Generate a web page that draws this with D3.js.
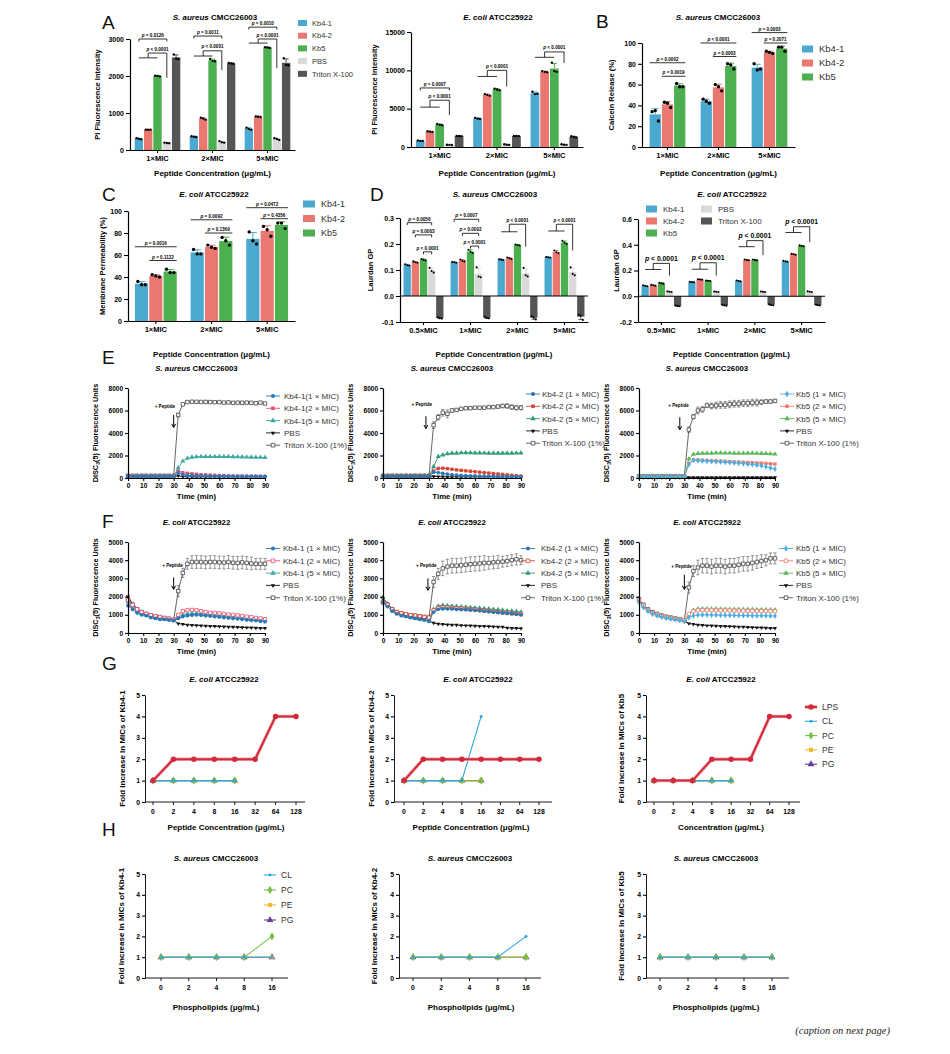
<!DOCTYPE html>
<html>
<head>
<meta charset="utf-8">
<script src="https://cdn.jsdelivr.net/npm/d3@7"></script>
<style>
body { margin: 0; background: #fff; }
</style>
</head>
<body>
<svg id="fig" width="950" height="1054"></svg>
<script>
// ---------- bar chart data (three replicates per bar) ----------
var mic3 = ['1×MIC', '2×MIC', '5×MIC'];
var mic4 = ['0.5×MIC', '1×MIC', '2×MIC', '5×MIC'];
var barNames5 = ['Kb4-1', 'Kb4-2', 'Kb5', 'PBS', 'Triton X-100'];
var barNames3 = ['Kb4-1', 'Kb4-2', 'Kb5'];
var barColors = ['#4ba8cf', '#ea7770', '#4caf50', '#d9d9d9', '#555555'];

// A: PI uptake, S. aureus
var piSa_kb41 = [[320, 300, 290], [370, 360, 350], [600, 570, 550]];
var piSa_kb42 = [[550, 550, 550], [870, 850, 820], [910, 900, 890]];
var piSa_kb5 = [[2010, 2000, 1990], [2460, 2410, 2400], [2780, 2770, 2760]];
var piSa_pbs = [[200, 190, 185], [240, 210, 200], [320, 300, 270]];
var piSa_tri = [[2580, 2470, 2460], [2350, 2340, 2330], [2480, 2300, 2290]];
// A: PI uptake, E. coli
var piEc_kb41 = [[850, 800, 780], [3800, 3700, 3650], [7200, 6900, 6950]];
var piEc_kb42 = [[2050, 2000, 1950], [6900, 6800, 6700], [9900, 9800, 9750]];
var piEc_kb5 = [[3000, 2900, 2850], [7600, 7500, 7400], [11000, 9900, 9800]];
var piEc_pbs = [[300, 280, 270], [350, 300, 280], [350, 300, 280]];
var piEc_tri = [[1450, 1430, 1420], [1450, 1430, 1420], [1400, 1300, 1250]];
// B: calcein release
var cal_kb41 = [[34, 35, 25], [46, 44, 42], [80, 74, 75]];
var cal_kb42 = [[43, 42, 38], [60, 58, 54], [92, 91, 90]];
var cal_kb5 = [[61, 58, 58], [80, 79, 75], [96, 96, 92]];
// C: membrane permeability
var perm_kb41 = [[36, 33, 33], [65, 61, 61], [81, 73, 70]];
var perm_kb42 = [[42, 41, 40], [69, 67, 66], [86, 83, 77]];
var perm_kb5 = [[47, 44, 44], [76, 73, 69], [89, 89, 84]];
// D: Laurdan GP, S. aureus
var gpSa_kb41 = [[0.122, 0.118, 0.117], [0.131, 0.130, 0.128], [0.141, 0.140, 0.138], [0.150, 0.149, 0.147]];
var gpSa_kb42 = [[0.133, 0.130, 0.128], [0.140, 0.135, 0.133], [0.148, 0.145, 0.142], [0.175, 0.168, 0.164]];
var gpSa_kb5 = [[0.142, 0.139, 0.137], [0.178, 0.170, 0.165], [0.198, 0.196, 0.194], [0.212, 0.205, 0.200]];
var gpSa_pbs = [[0.108, 0.096, 0.090], [0.110, 0.075, 0.072], [0.108, 0.080, 0.075], [0.110, 0.085, 0.080]];
var gpSa_tri = [[-0.082, -0.085, -0.087], [-0.080, -0.084, -0.086], [-0.078, -0.083, -0.090], [-0.072, -0.075, -0.092]];
// D: Laurdan GP, E. coli
var gpEc_kb41 = [[0.085, 0.080, 0.078], [0.112, 0.110, 0.108], [0.122, 0.118, 0.115], [0.275, 0.270, 0.268]];
var gpEc_kb42 = [[0.088, 0.085, 0.082], [0.132, 0.130, 0.128], [0.285, 0.282, 0.280], [0.330, 0.326, 0.322]];
var gpEc_kb5 = [[0.105, 0.100, 0.098], [0.122, 0.120, 0.118], [0.285, 0.282, 0.279], [0.395, 0.390, 0.388]];
var gpEc_pbs = [[0.038, 0.035, 0.033], [0.037, 0.035, 0.033], [0.037, 0.035, 0.033], [0.038, 0.035, 0.033]];
var gpEc_tri = [[-0.072, -0.075, -0.078], [-0.066, -0.070, -0.073], [-0.062, -0.066, -0.070], [-0.064, -0.068, -0.072]];

// significance labels: group, bars a..b (and c for the joined bracket), level(s)
var notesPiSa = [
  { g: 0, a: 0, b: 3, v: 3000, t: '= 0.0126' }, { g: 0, a: 0, b: 2, c: 3, v1: 2490, v2: 2620, v3: 1950, t: '< 0.0001' },
  { g: 1, a: 0, b: 3, v: 3080, t: '= 0.0011' }, { g: 1, a: 0, b: 2, c: 3, v1: 2540, v2: 2680, v3: 2160, t: '< 0.0001' },
  { g: 2, a: 0, b: 3, v: 3320, t: '= 0.0010' }, { g: 2, a: 0, b: 2, c: 3, v1: 2890, v2: 3000, v3: 2210, t: '< 0.0001' }
];
var notesPiEc = [
  { g: 0, a: 0, b: 3, v: 7700, t: '= 0.0007' }, { g: 0, a: 0, b: 2, c: 3, v1: 5200, v2: 6100, v3: 4170, t: '< 0.0001' },
  { g: 1, a: 0, b: 2, c: 3, v1: 9200, v2: 10000, v3: 7900, t: '< 0.0001' },
  { g: 2, a: 0, b: 2, c: 3, v1: 11700, v2: 12400, v3: 10950, t: '< 0.0001' }
];
var notesCal = [
  { g: 0, a: 0, b: 2, v: 81, t: '= 0.0002' }, { g: 0, a: 1, b: 2, v: 68, t: '= 0.0019' },
  { g: 1, a: 0, b: 2, v: 100, t: '< 0.0001' }, { g: 1, a: 1, b: 2, v: 87, t: '= 0.0003' },
  { g: 2, a: 0, b: 2, v: 110, t: '= 0.0003' }, { g: 2, a: 1, b: 2, v: 100, t: '= 0.2071' }
];
var notesPerm = [
  { g: 0, a: 0, b: 2, v: 67.5, t: '= 0.0016' }, { g: 0, a: 1, b: 2, v: 55, t: '= 0.1122' },
  { g: 1, a: 0, b: 2, v: 92, t: '= 0.0092' }, { g: 1, a: 1, b: 2, v: 80, t: '= 0.1369' },
  { g: 2, a: 0, b: 2, v: 103, t: '= 0.0472' }, { g: 2, a: 1, b: 2, v: 93, t: '= 0.4356' }
];
var notesGpSa = [
  { g: 0, a: 0, b: 3, v: 0.282, t: '= 0.0056' }, { g: 0, a: 1, b: 3, v: 0.235, t: '= 0.0003' }, { g: 0, a: 2, b: 3, v: 0.17, t: '< 0.0001' },
  { g: 1, a: 0, b: 3, v: 0.295, t: '= 0.0007' }, { g: 1, a: 1, b: 3, v: 0.241, t: '= 0.0002' }, { g: 1, a: 2, b: 3, v: 0.192, t: '< 0.0001' },
  { g: 2, a: 0, b: 2, c: 3, v1: 0.247, v2: 0.276, v3: 0.19, t: '< 0.0001' },
  { g: 3, a: 0, b: 2, c: 3, v1: 0.25, v2: 0.276, v3: 0.175, t: '< 0.0001' }
];
var notesGpEc = [
  { g: 0, a: 0, b: 2, c: 3, v1: 0.208, v2: 0.255, v3: 0.16, t: '< 0.0001' },
  { g: 1, a: 0, b: 2, c: 3, v1: 0.21, v2: 0.26, v3: 0.16, t: '< 0.0001' },
  { g: 2, a: 0, b: 2, c: 3, v1: 0.385, v2: 0.432, v3: 0.32, t: '< 0.0001' },
  { g: 3, a: 0, b: 2, c: 3, v1: 0.495, v2: 0.54, v3: 0.42, t: '< 0.0001' }
];

// ---------- DiSC3(5) time courses ----------
var timeMin = [0, 3, 6, 9, 12, 15, 18, 21, 24, 27, 30, 33, 36, 39, 42, 45, 48, 51, 54, 57, 60, 63, 66, 69, 72, 75, 78, 81, 84, 87, 90];

var eSa41_1x = [150, 150, 150, 150, 150, 150, 150, 150, 150, 150, 150, 480, 300, 250, 220, 200, 190, 180, 170, 170, 160, 160, 150, 150, 150, 150, 140, 140, 140, 140, 140];
var eSa41_2x = [160, 160, 160, 160, 160, 160, 160, 160, 160, 160, 160, 620, 480, 420, 380, 340, 300, 280, 260, 240, 220, 210, 200, 190, 180, 170, 170, 160, 160, 150, 150];
var eSa41_5x = [170, 170, 170, 170, 170, 170, 170, 170, 170, 170, 170, 900, 1500, 1750, 1850, 1880, 1900, 1900, 1900, 1900, 1900, 1900, 1900, 1890, 1880, 1870, 1860, 1850, 1840, 1830, 1820];
var eSa41_pbs = [100, 100, 100, 100, 100, 100, 100, 100, 100, 100, 100, 200, 120, 110, 100, 100, 100, 100, 100, 100, 100, 100, 100, 100, 100, 100, 100, 100, 100, 100, 100];
var eSa41_tri = [200, 200, 200, 200, 200, 200, 200, 200, 200, 200, 200, 5600, 6550, 6750, 6780, 6770, 6760, 6760, 6750, 6740, 6750, 6700, 6720, 6680, 6700, 6690, 6700, 6680, 6650, 6700, 6620];
var eSa41_err = [0, 0, 0, 0, 0, 0, 0, 0, 0, 0, 0, 150, 100, 80, 80, 80, 80, 80, 80, 80, 80, 80, 80, 80, 80, 80, 80, 80, 80, 80, 80];

var eSa42_1x = [150, 150, 150, 150, 150, 150, 150, 150, 150, 150, 150, 520, 480, 420, 350, 300, 260, 230, 210, 190, 180, 170, 160, 150, 150, 140, 140, 130, 130, 130, 120];
var eSa42_2x = [170, 170, 170, 170, 170, 170, 170, 170, 170, 170, 170, 620, 850, 880, 830, 780, 720, 680, 640, 600, 560, 520, 480, 440, 400, 360, 320, 280, 240, 200, 170];
var eSa42_5x = [180, 180, 180, 180, 180, 180, 180, 180, 180, 180, 180, 1000, 1900, 2050, 2150, 2200, 2200, 2230, 2250, 2230, 2220, 2220, 2210, 2200, 2200, 2200, 2200, 2200, 2200, 2210, 2220];
var eSa42_pbs = [100, 100, 100, 100, 100, 100, 100, 100, 100, 100, 100, 150, 130, 110, 100, 100, 100, 100, 100, 100, 100, 100, 100, 100, 100, 100, 100, 100, 100, 100, 100];
var eSa42_tri = [200, 200, 200, 200, 200, 200, 200, 200, 200, 200, 200, 4700, 5400, 5800, 5700, 6000, 6050, 6150, 6200, 6200, 6250, 6250, 6250, 6300, 6300, 6350, 6400, 6400, 6300, 6250, 6250];
var eSa42_err = [0, 0, 0, 0, 0, 0, 0, 0, 0, 0, 0, 300, 250, 300, 350, 150, 100, 100, 100, 100, 100, 100, 100, 100, 100, 150, 150, 200, 200, 200, 200];

var eSa5_1x = [120, 120, 120, 120, 120, 120, 120, 120, 120, 120, 120, 1200, 1580, 1550, 1520, 1500, 1480, 1460, 1440, 1410, 1380, 1350, 1320, 1280, 1240, 1200, 1150, 1100, 1000, 900, 800];
var eSa5_2x = [130, 130, 130, 130, 130, 130, 130, 130, 130, 130, 130, 1300, 1620, 1600, 1580, 1560, 1540, 1520, 1500, 1480, 1460, 1440, 1420, 1400, 1380, 1360, 1340, 1320, 1300, 1270, 1240];
var eSa5_5x = [140, 140, 140, 140, 140, 140, 140, 140, 140, 140, 140, 1700, 2100, 2180, 2200, 2200, 2200, 2220, 2220, 2210, 2210, 2200, 2200, 2200, 2200, 2200, 2190, 2180, 2170, 2150, 2130];
var eSa5_pbs = [50, 50, 50, 50, 50, 50, 50, 50, 50, 50, 50, 50, 50, 50, 50, 50, 50, 50, 50, 50, 50, 50, 50, 50, 50, 50, 50, 50, 50, 50, 50];
var eSa5_tri = [150, 150, 150, 150, 150, 150, 150, 150, 150, 150, 150, 4300, 5450, 6000, 6100, 6450, 6400, 6450, 6500, 6500, 6550, 6600, 6600, 6650, 6650, 6700, 6700, 6750, 6800, 6800, 6850];
var eSa5_err = [0, 0, 0, 0, 0, 0, 0, 0, 0, 0, 0, 250, 200, 300, 250, 200, 250, 300, 300, 300, 300, 300, 300, 300, 300, 300, 300, 200, 150, 150, 150];

var fEc41_1x = [1500, 1300, 1100, 1000, 950, 850, 800, 750, 750, 720, 680, 800, 900, 950, 980, 1000, 980, 950, 930, 900, 880, 850, 830, 800, 780, 750, 720, 700, 680, 650, 620];
var fEc41_2x = [1800, 1550, 1300, 1150, 1050, 980, 920, 880, 830, 780, 720, 1000, 1200, 1260, 1270, 1250, 1200, 1150, 1120, 1100, 1080, 1050, 1020, 1000, 970, 940, 900, 870, 830, 800, 760];
var fEc41_5x = [1700, 1450, 1200, 1050, 980, 880, 820, 760, 740, 720, 680, 850, 1000, 1050, 1070, 1080, 1060, 1040, 1020, 1000, 970, 950, 920, 900, 870, 840, 800, 780, 750, 720, 700];
var fEc41_pbs = [2000, 1600, 1350, 1150, 1050, 950, 900, 850, 800, 760, 700, 520, 480, 450, 430, 420, 400, 390, 380, 370, 360, 350, 340, 330, 320, 310, 300, 290, 280, 270, 260];
var fEc41_tri = [1850, 1550, 1300, 1150, 1050, 980, 920, 870, 820, 780, 720, 2300, 3300, 3800, 3900, 3900, 3900, 3880, 3900, 3900, 3880, 3870, 3900, 3860, 3850, 3880, 3850, 3820, 3800, 3800, 3800];
var fEc41_err = [80, 60, 50, 50, 50, 50, 50, 50, 50, 50, 50, 300, 250, 300, 350, 350, 350, 350, 350, 350, 350, 350, 350, 350, 350, 350, 350, 350, 300, 300, 300];

var fEc42_1x = [1650, 1450, 1200, 1050, 950, 900, 850, 800, 750, 720, 650, 1150, 1300, 1330, 1330, 1320, 1300, 1290, 1280, 1270, 1250, 1230, 1200, 1180, 1150, 1130, 1100, 1080, 1060, 1040, 1000];
var fEc42_2x = [1700, 1550, 1300, 1150, 1080, 1030, 980, 950, 920, 880, 850, 1250, 1380, 1400, 1400, 1380, 1360, 1340, 1320, 1300, 1280, 1250, 1230, 1200, 1180, 1150, 1120, 1100, 1080, 1060, 1040];
var fEc42_5x = [1950, 1600, 1300, 1100, 1000, 920, 850, 800, 760, 720, 650, 1300, 1480, 1520, 1500, 1480, 1460, 1440, 1420, 1400, 1380, 1360, 1340, 1320, 1300, 1280, 1250, 1220, 1200, 1180, 1150];
var fEc42_pbs = [1900, 1600, 1350, 1150, 1050, 950, 900, 850, 800, 750, 650, 550, 500, 480, 460, 450, 440, 420, 410, 400, 390, 380, 370, 360, 350, 340, 330, 280, 270, 260, 250];
var fEc42_tri = [1700, 1550, 1300, 1150, 1080, 1030, 980, 950, 920, 880, 850, 2800, 3250, 3550, 3650, 3700, 3700, 3720, 3750, 3780, 3800, 3820, 3850, 3850, 3880, 3900, 3920, 3950, 4000, 4050, 4000];
var fEc42_err = [80, 60, 50, 50, 50, 50, 50, 50, 50, 50, 50, 300, 300, 400, 400, 400, 400, 400, 400, 400, 400, 400, 400, 350, 350, 350, 300, 300, 300, 300, 250];

var fEc5_1x = [1700, 1400, 1200, 1050, 950, 880, 820, 780, 740, 700, 650, 850, 950, 990, 1000, 1000, 990, 990, 980, 980, 970, 970, 960, 960, 960, 950, 950, 950, 950, 940, 940];
var fEc5_2x = [1800, 1500, 1250, 1100, 1000, 930, 870, 820, 780, 740, 700, 1050, 1200, 1250, 1260, 1260, 1250, 1250, 1240, 1240, 1240, 1230, 1230, 1230, 1220, 1220, 1220, 1210, 1210, 1200, 1200];
var fEc5_5x = [1750, 1450, 1220, 1080, 990, 920, 860, 810, 770, 730, 680, 1000, 1250, 1320, 1330, 1330, 1320, 1320, 1310, 1310, 1300, 1300, 1300, 1290, 1290, 1290, 1280, 1280, 1280, 1270, 1270];
var fEc5_pbs = [1800, 1500, 1250, 1100, 1000, 920, 860, 800, 750, 700, 650, 520, 480, 450, 430, 410, 400, 390, 380, 370, 360, 350, 340, 330, 320, 310, 300, 290, 280, 270, 260];
var fEc5_tri = [1850, 1550, 1300, 1150, 1050, 960, 900, 850, 800, 760, 700, 2500, 3400, 3600, 3700, 3700, 3650, 3700, 3700, 3650, 3700, 3700, 3750, 3800, 3800, 3850, 3900, 3950, 4000, 4100, 4100];
var fEc5_err = [80, 60, 50, 50, 50, 50, 50, 50, 50, 50, 50, 300, 300, 400, 400, 400, 400, 400, 400, 400, 400, 400, 400, 400, 400, 400, 350, 350, 300, 300, 300];

var labE41 = ['Kb4-1(1 × MIC)', 'Kb4-1(2 × MIC)', 'Kb4-1(5 × MIC)', 'PBS', 'Triton X-100 (1%)'];
var labF41 = ['Kb4-1 (1 × MIC)', 'Kb4-1 (2 × MIC)', 'Kb4-1 (5 × MIC)', 'PBS', 'Triton X-100 (1%)'];
var lab42 = ['Kb4-2 (1 × MIC)', 'Kb4-2 (2 × MIC)', 'Kb4-2 (5 × MIC)', 'PBS', 'Triton X-100 (1%)'];
var lab5 = ['Kb5 (1 × MIC)', 'Kb5 (2 × MIC)', 'Kb5 (5 × MIC)', 'PBS', 'Triton X-100 (1%)'];

// ---------- MIC fold increase ----------
var concG = ['0', '2', '4', '8', '16', '32', '64', '128'];
var concH = ['0', '2', '4', '8', '16'];
var lipidNames = ['LPS', 'CL', 'PC', 'PE', 'PG'];
var gKb41 = { LPS: [1, 2, 2, 2, 2, 2, 4, 4], CL: [1, 1, 1, 1, 1], PC: [1, 1, 1, 1, 1], PE: [1, 1, 1, 1, 1], PG: [1, 1, 1, 1, 1] };
var gKb42 = { LPS: [1, 2, 2, 2, 2, 2, 2, 2], CL: [1, 1, 1, 1, 4], PC: [1, 1, 1, 1, 1], PE: [1, 1, 1, 1, 1], PG: [1, 1, 1, 1, 1] };
var gKb5 = { LPS: [1, 1, 1, 2, 2, 2, 4, 4], CL: [1, 1, 1, 1, 1], PC: [1, 1, 1, 1, 1], PE: [1, 1, 1, 1, 1], PG: [1, 1, 1, 1, 1] };
var hKb41 = { CL: [1, 1, 1, 1, 1], PC: [1, 1, 1, 1, 2], PE: [1, 1, 1, 1, 1], PG: [1, 1, 1, 1, 1] };
var hKb42 = { CL: [1, 1, 1, 1, 2], PC: [1, 1, 1, 1, 1], PE: [1, 1, 1, 1, 1], PG: [1, 1, 1, 1, 1] };
var hKb5 = { CL: [1, 1, 1, 1, 1], PC: [1, 1, 1, 1, 1], PE: [1, 1, 1, 1, 1], PG: [1, 1, 1, 1, 1] };

// ---------------------------------------------------------------
var FONT = '"Liberation Sans", Arial, Helvetica, sans-serif';
var NARROW = '"Liberation Sans Narrow", "Arial Narrow", "Liberation Sans", sans-serif';
var svg = d3.select('#fig');
svg.append('rect').attr('width', 950).attr('height', 1054).attr('fill', '#fff');

function styleAxis(sel, fs, fam) {
  sel.attr('font-family', fam || FONT);
  sel.select('.domain').attr('stroke', '#000').attr('stroke-width', 1.2);
  sel.selectAll('.tick line').attr('stroke', '#000').attr('stroke-width', 1.1);
  sel.selectAll('.tick text').attr('font-size', fs).attr('font-weight', 'bold')
    .attr('fill', '#000').attr('font-family', fam || FONT);
}

function title(g, x, y, it, rest, fs, fam) {
  var t = g.append('text').attr('x', x).attr('y', y).attr('text-anchor', 'middle')
    .attr('font-size', fs || 8).attr('font-weight', 'bold').attr('font-family', fam || FONT);
  t.append('tspan').attr('font-style', 'italic').text(it);
  t.append('tspan').text(rest);
}

function plainText(g, x, y, txt, fs, opt) {
  opt = opt || {};
  var t = g.append('text').attr('x', x).attr('y', y).attr('font-size', fs)
    .attr('font-family', opt.fam || FONT).attr('text-anchor', opt.anchor || 'middle')
    .attr('fill', opt.fill || '#000').text(txt);
  if (opt.bold !== false) t.attr('font-weight', 'bold');
  if (opt.rot) t.attr('transform', 'rotate(-90,' + x + ',' + y + ')');
  return t;
}

function pText(g, x, y, t, fs) {
  var tx = g.append('text').attr('x', x).attr('y', y).attr('text-anchor', 'middle')
    .attr('font-size', fs).attr('font-weight', 'bold').attr('font-family', FONT);
  tx.append('tspan').attr('font-style', 'italic').text('p');
  tx.append('tspan').text(' ' + t);
}

function barChart(o) {
  var g = svg.append('g');
  var x = d3.scaleBand().domain(o.cats).range([o.x0, o.x1]).paddingInner(o.gPad).paddingOuter(o.gPad / 2);
  var xi = d3.scaleBand().domain(d3.range(o.series.length)).range([0, x.bandwidth()]).paddingInner(o.bPad);
  var y = d3.scaleLinear().domain(o.domain).range([o.yBot, o.yTop]);
  var bw = xi.bandwidth();
  function cx(ci, si) { return x(o.cats[ci]) + xi(si) + bw / 2; }

  o.series.forEach(function (reps, si) {
    reps.forEach(function (r, ci) {
      var m = d3.mean(r), sd = d3.deviation(r) || 0, c = cx(ci, si);
      g.append('rect').attr('x', c - bw / 2).attr('width', bw)
        .attr('y', Math.min(y(m), y(0))).attr('height', Math.abs(y(m) - y(0)))
        .attr('fill', o.colors[si]);
      var e = y(m >= 0 ? m + sd : m - sd);
      g.append('line').attr('x1', c).attr('x2', c).attr('y1', y(m)).attr('y2', e)
        .attr('stroke', o.colors[si]).attr('stroke-width', 1);
      g.append('line').attr('x1', c - bw * 0.3).attr('x2', c + bw * 0.3).attr('y1', e).attr('y2', e)
        .attr('stroke', o.colors[si]).attr('stroke-width', 1);
      r.forEach(function (v, k) {
        g.append('circle').attr('cx', c + (k - 1) * bw * 0.28).attr('cy', y(v))
          .attr('r', o.dotR || 1.2).attr('fill', '#000');
      });
    });
  });

  var ya = g.append('g').attr('transform', 'translate(' + o.x0 + ',0)')
    .call(d3.axisLeft(y).tickValues(o.ticks).tickFormat(o.fmt || d3.format('d'))
      .tickSize(4).tickSizeOuter(0).tickPadding(2));
  styleAxis(ya, o.tfs || 7);
  var xa = g.append('g').attr('transform', 'translate(0,' + o.yBot + ')')
    .call(d3.axisBottom(x).tickSize(3).tickSizeOuter(0).tickPadding(3));
  styleAxis(xa, o.cfs || 7.5);
  if (o.domain[0] < 0) {
    g.append('line').attr('x1', o.x0).attr('x2', o.x1).attr('y1', y(0)).attr('y2', y(0))
      .attr('stroke', '#000').attr('stroke-width', 1.2);
  }

  (o.notes || []).forEach(function (n) {
    var L = g.append('path').attr('fill', 'none').attr('stroke', '#000').attr('stroke-width', 0.8);
    var ext = o.noteExt ? bw / 2 : 0, tk = o.noteTicks ? 2.5 : 0;
    var xa0 = cx(n.g, n.a) - ext, xb = cx(n.g, n.b) + ext, tx, ty;
    if (n.c === undefined) {
      var yy = y(n.v);
      L.attr('d', 'M' + xa0 + ',' + (yy + tk) + 'V' + yy + 'H' + xb + 'V' + (yy + tk));
      tx = (xa0 + xb) / 2; ty = yy - 2;
    } else {
      var xc = cx(n.g, n.c), mid = (xa0 + xb) / 2;
      L.attr('d', 'M' + xa0 + ',' + y(n.v1) + 'H' + xb + 'M' + mid + ',' + y(n.v1) +
        'V' + y(n.v2) + 'H' + xc + 'V' + y(n.v3));
      tx = (mid + xc) / 2; ty = y(n.v2) - 2.5;
    }
    pText(g, tx, ty, n.t, o.nfs || 5);
  });

  title(g, o.tx, o.ty, o.title[0], o.title[1], 8);
  plainText(g, (o.x0 + o.x1) / 2, o.xly, 'Peptide Concentration (μg/mL)', 8);
  plainText(g, o.ylx, (o.yTop + o.yBot) / 2, o.yLabel, 7.5, { rot: true });

  if (o.legend) {
    var lg = o.legend;
    o.names.forEach(function (nm, i) {
      var col = Math.floor(i / lg.per), row = i % lg.per;
      var lx = lg.x + col * (lg.colW || 0), ly = lg.y + row * lg.dy;
      g.append('rect').attr('x', lx).attr('y', ly - lg.sh / 2).attr('width', lg.sw).attr('height', lg.sh)
        .attr('fill', o.colors[i]);
      plainText(g, lx + lg.sw + lg.gap, ly + lg.fs * 0.36, nm, lg.fs, { anchor: 'start', bold: false, fill: '#333' });
    });
  }
}

var shapes = {
  circle: d3.symbolCircle, square: d3.symbolSquare, triangle: d3.symbolTriangle,
  diamond: d3.symbolDiamond, down: d3.symbolTriangle, cross: d3.symbolCross
};

function marker(g, s, px, py, size) {
  var p = g.append('path').attr('d', d3.symbol().type(shapes[s.shape]).size(size || s.size || 11)())
    .attr('transform', 'translate(' + px + ',' + py + ')' + (s.shape === 'down' ? ' rotate(180)' : ''));
  if (s.open) p.attr('fill', '#fff').attr('stroke', s.color).attr('stroke-width', 0.8);
  else p.attr('fill', s.color);
}

function timeChart(o) {
  var g = svg.append('g');
  var x = d3.scaleLinear().domain([0, 90]).range([o.x0, o.x1]);
  var y = d3.scaleLinear().domain([0, o.ymax]).range([o.yBot, o.yTop]);

  o.series.slice().reverse().forEach(function (s) {
    if (s.err) {
      s.err.forEach(function (e, i) {
        if (!e) return;
        var px = x(timeMin[i]), a = y(s.v[i] + e), b = y(s.v[i] - e);
        g.append('path').attr('d', 'M' + px + ',' + a + 'V' + b + 'M' + (px - 1.6) + ',' + a + 'H' + (px + 1.6) +
          'M' + (px - 1.6) + ',' + b + 'H' + (px + 1.6))
          .attr('stroke', s.line || s.color).attr('stroke-width', 0.6).attr('fill', 'none');
      });
    }
    var pts = timeMin.map(function (t, i) { return [x(t), y(s.v[i])]; });
    g.append('path').attr('d', d3.line()(pts)).attr('fill', 'none')
      .attr('stroke', s.line || s.color).attr('stroke-width', 0.9);
    pts.forEach(function (p) { marker(g, s, p[0], p[1]); });
  });

  var ya = g.append('g').attr('transform', 'translate(' + o.x0 + ',0)')
    .call(d3.axisLeft(y).tickValues(d3.range(0, o.ymax + 1, o.ystep))
      .tickFormat(d3.format('d')).tickSize(3).tickSizeOuter(0).tickPadding(2));
  styleAxis(ya, 6.5);
  var xa = g.append('g').attr('transform', 'translate(0,' + o.yBot + ')')
    .call(d3.axisBottom(x).tickValues(d3.range(0, 91, 10)).tickFormat(d3.format('d'))
      .tickSize(3).tickSizeOuter(0).tickPadding(2));
  styleAxis(xa, 6.5);

  // peptide addition marker
  plainText(g, x(o.pep.t), y(o.pep.v), '+ Peptide', 4.6, { anchor: 'end' });
  var ax = x(o.pep.at), a1 = y(o.pep.a1), a2 = y(o.pep.a2);
  g.append('path').attr('d', 'M' + ax + ',' + a1 + 'V' + a2 + 'M' + (ax - 2) + ',' + (a2 - 3.5) + 'L' + ax + ',' + a2 +
    'L' + (ax + 2) + ',' + (a2 - 3.5)).attr('stroke', '#000').attr('stroke-width', 1).attr('fill', 'none');

  title(g, (o.x0 + o.x1) / 2, o.yTop - 17, o.title[0], o.title[1], 7.8);
  plainText(g, (o.x0 + o.x1) / 2, o.yBot + 21, 'Time (min)', 7.8);
  var yl = g.append('text')
    .attr('transform', 'translate(' + (o.x0 - 30) + ',' + ((o.yTop + o.yBot) / 2) + ') rotate(-90)')
    .attr('text-anchor', 'middle').attr('font-size', 7.3).attr('font-weight', 'bold').attr('font-family', FONT);
  yl.append('tspan').text('DISC');
  yl.append('tspan').attr('font-size', 5.2).attr('dy', 2).text('3');
  yl.append('tspan').attr('dy', -2).text('(5) Fluorescence Units');

  o.series.forEach(function (s, i) {
    var ly = o.lg.y + i * 12.3;
    g.append('line').attr('x1', o.lg.mx - 7).attr('x2', o.lg.mx + 7).attr('y1', ly).attr('y2', ly)
      .attr('stroke', s.line || s.color).attr('stroke-width', 0.9);
    marker(g, s, o.lg.mx, ly, i === 3 ? 8 : 13);
    plainText(g, o.lg.tx, ly + 2.9, s.label, 8, { anchor: 'start', bold: false, fill: '#333' });
  });
}

function tSeries(vals, colors, shapes_, opens, labels, err) {
  return vals.map(function (v, i) {
    var s = { v: v, color: colors[i], shape: shapes_[i], open: opens[i], label: labels[i] };
    if (i === 3) s.size = 7;
    if (i === 4) { s.line = '#555'; s.color = '#444'; s.err = err; s.size = 12; }
    return s;
  });
}

var lipidStyle = {
  LPS: { color: '#d22a3b', shape: 'circle', size: 24, lw: 2 },
  CL: { color: '#2aa7df', shape: 'circle', size: 7, lw: 1.1 },
  PC: { color: '#77bd45', shape: 'diamond', size: 20, lw: 1.1 },
  PE: { color: '#f2b630', shape: 'square', size: 16, lw: 1.1 },
  PG: { color: '#6a3d9a', shape: 'triangle', size: 20, lw: 1.1 }
};

function micChart(o) {
  var g = svg.append('g');
  var x = d3.scalePoint().domain(o.cats).range([o.c0, o.c1]);
  var y = d3.scaleLinear().domain([0, 5]).range([o.yBot, o.yTop]);
  var order = ['PG', 'PE', 'PC', 'CL', 'LPS'];
  order.forEach(function (k) {
    if (!o.data[k]) return;
    var st = lipidStyle[k];
    var pts = o.data[k].map(function (v, i) { return [x(o.cats[i]), y(v)]; });
    if (k === 'LPS') {
      g.append('path').attr('d', d3.line()(pts)).attr('fill', 'none').attr('stroke', '#f3a3ab').attr('stroke-width', 3.4);
    }
    g.append('path').attr('d', d3.line()(pts)).attr('fill', 'none').attr('stroke', st.color).attr('stroke-width', st.lw);
    pts.forEach(function (p) { marker(g, st, p[0], p[1]); });
  });

  var ya = g.append('g').attr('transform', 'translate(' + o.x0 + ',0)')
    .call(d3.axisLeft(y).tickValues([0, 1, 2, 3, 4, 5]).tickFormat(d3.format('d'))
      .tickSize(3).tickSizeOuter(0).tickPadding(2));
  styleAxis(ya, 6.8, NARROW);
  ya.select('.domain').attr('stroke-width', 0.9);
  g.append('line').attr('x1', o.x0).attr('x2', o.x1).attr('y1', o.yBot).attr('y2', o.yBot)
    .attr('stroke', '#000').attr('stroke-width', 0.9);
  o.cats.forEach(function (c) {
    g.append('line').attr('x1', x(c)).attr('x2', x(c)).attr('y1', o.yBot).attr('y2', o.yBot + 3)
      .attr('stroke', '#000').attr('stroke-width', 0.9);
    plainText(g, x(c), o.yBot + 12, c, 6.8, { fam: NARROW });
  });

  title(g, o.tx, o.yTop - 13, o.title[0], o.title[1], 8, NARROW);
  plainText(g, o.xlx, o.xly, o.xLabel, 8, { fam: NARROW });
  plainText(g, o.ylx, (o.yTop + o.yBot) / 2, o.yLabel, 8, { rot: true, fam: NARROW });

  if (o.lg) {
    o.lg.names.forEach(function (k, i) {
      var st = lipidStyle[k], ly = o.lg.y + i * o.lg.dy;
      if (k === 'LPS') g.append('line').attr('x1', o.lg.mx - 6).attr('x2', o.lg.mx + 6).attr('y1', ly).attr('y2', ly)
        .attr('stroke', '#f3a3ab').attr('stroke-width', 3.4);
      g.append('line').attr('x1', o.lg.mx - 6).attr('x2', o.lg.mx + 6).attr('y1', ly).attr('y2', ly)
        .attr('stroke', st.color).attr('stroke-width', st.lw);
      marker(g, st, o.lg.mx, ly);
      plainText(g, o.lg.tx, ly + 3, k, 8.5, { anchor: 'start', bold: false, fam: NARROW, fill: '#333' });
    });
  }
}

// ---------- panels ----------
barChart({
  x0: 130, x1: 295, yTop: 39, yBot: 150, domain: [0, 3000], ticks: [0, 1000, 2000, 3000],
  cats: mic3, series: [piSa_kb41, piSa_kb42, piSa_kb5, piSa_pbs, piSa_tri], colors: barColors, names: barNames5,
  gPad: 0.17, bPad: 0.1, title: ['S. aureus', ' CMCC26003'], tx: 215, ty: 20, xly: 176, ylx: 100,
  yLabel: 'PI Fluorescence Intensity', notes: notesPiSa, noteTicks: true, nfs: 4.6,
  legend: { x: 298, y: 23, dy: 12.7, per: 5, sw: 9, sh: 6, gap: 5, fs: 7.5 }
});
barChart({
  x0: 411, x1: 583, yTop: 32, yBot: 147, domain: [0, 15000], ticks: [0, 5000, 10000, 15000],
  cats: mic3, series: [piEc_kb41, piEc_kb42, piEc_kb5, piEc_pbs, piEc_tri], colors: barColors, names: barNames5,
  gPad: 0.17, bPad: 0.1, title: ['E. coli', ' ATCC25922'], tx: 498, ty: 20, xly: 176, ylx: 377,
  yLabel: 'PI Fluorescence Intensity', notes: notesPiEc, noteTicks: true, nfs: 4.6
});
barChart({
  x0: 642, x1: 795, yTop: 43, yBot: 147, domain: [0, 100], ticks: [0, 20, 40, 60, 80, 100],
  cats: mic3, series: [cal_kb41, cal_kb42, cal_kb5], colors: barColors, names: barNames3,
  gPad: 0.3, bPad: 0.08, dotR: 1.7, title: ['S. aureus', ' CMCC26003'], tx: 718, ty: 20, xly: 176, ylx: 614,
  yLabel: 'Calcein Release (%)', notes: notesCal, noteExt: true, nfs: 4.6,
  legend: { x: 802, y: 49, dy: 14, per: 3, sw: 11, sh: 7, gap: 6, fs: 9.5 }
});
barChart({
  x0: 128, x1: 295, yTop: 211, yBot: 321, domain: [0, 100], ticks: [0, 20, 40, 60, 80, 100],
  cats: mic3, series: [perm_kb41, perm_kb42, perm_kb5], colors: barColors, names: barNames3,
  gPad: 0.25, bPad: 0.08, dotR: 1.7, title: ['E. coli', ' ATCC25922'], tx: 214, ty: 197, xly: 357, ylx: 105,
  yLabel: 'Membrane Permeability (%)', notes: notesPerm, noteExt: true, nfs: 4.6,
  legend: { x: 303, y: 204, dy: 14.5, per: 3, sw: 12, sh: 7, gap: 6, fs: 9 }
});
barChart({
  x0: 400, x1: 588, yTop: 218, yBot: 322, domain: [-0.1, 0.3], ticks: [-0.1, 0, 0.1, 0.2, 0.3],
  fmt: function (d) { return d.toFixed(1); },
  cats: mic4, series: [gpSa_kb41, gpSa_kb42, gpSa_kb5, gpSa_pbs, gpSa_tri], colors: barColors, names: barNames5,
  gPad: 0.15, bPad: 0.1, dotR: 1.05, title: ['S. aureus', ' CMCC26003'], tx: 495, ty: 197, xly: 357, ylx: 373,
  yLabel: 'Laurdan GP', notes: notesGpSa, noteTicks: true, nfs: 4.6
});
barChart({
  x0: 638, x1: 825, yTop: 219, yBot: 322, domain: [-0.2, 0.6], ticks: [-0.2, 0, 0.2, 0.4, 0.6],
  fmt: function (d) { return d.toFixed(1); },
  cats: mic4, series: [gpEc_kb41, gpEc_kb42, gpEc_kb5, gpEc_pbs, gpEc_tri], colors: barColors, names: barNames5,
  gPad: 0.15, bPad: 0.1, dotR: 1.05, title: ['E. coli', ' ATCC25922'], tx: 732, ty: 197, xly: 357, ylx: 619,
  yLabel: 'Laurdan GP', notes: notesGpEc, nfs: 6.8,
  legend: { x: 646, y: 209, dy: 12, per: 3, colW: 55, sw: 11, sh: 7, gap: 6, fs: 8 }
});

var shp = ['circle', 'square', 'triangle', 'down', 'square'];
var shp5 = ['diamond', 'square', 'triangle', 'down', 'square'];
var cols41 = ['#2b77b8', '#e6506e', '#3aa99f', '#111', '#444'];
var cols42 = ['#2a77b5', '#d94535', '#2e9c7a', '#111', '#444'];
var cols5 = ['#49aee0', '#ee7b6e', '#58b85a', '#111', '#444'];

timeChart({
  x0: 128, x1: 265, yTop: 388, yBot: 478, ymax: 8000, ystep: 2000, title: ['S. aureus', ' CMCC26003'],
  series: tSeries([eSa41_1x, eSa41_2x, eSa41_5x, eSa41_pbs, eSa41_tri], cols41, shp, [0, 0, 0, 0, 1], labE41, eSa41_err),
  pep: { t: 31, v: 6250, at: 30, a1: 5600, a2: 4500 }, lg: { mx: 273, tx: 284, y: 396 }
});
timeChart({
  x0: 383, x1: 521, yTop: 388, yBot: 478, ymax: 8000, ystep: 2000, title: ['S. aureus', ' CMCC26003'],
  series: tSeries([eSa42_1x, eSa42_2x, eSa42_5x, eSa42_pbs, eSa42_tri], cols42, shp, [0, 0, 0, 0, 1], lab42, eSa42_err),
  pep: { t: 32, v: 6400, at: 28, a1: 5500, a2: 4400 }, lg: { mx: 533, tx: 542, y: 394 }
});
timeChart({
  x0: 639, x1: 775, yTop: 388, yBot: 478, ymax: 8000, ystep: 2000, title: ['S. aureus', ' CMCC26003'],
  series: tSeries([eSa5_1x, eSa5_2x, eSa5_5x, eSa5_pbs, eSa5_tri], cols5, shp5, [0, 0, 0, 0, 1], lab5, eSa5_err),
  pep: { t: 33, v: 6300, at: 27, a1: 5400, a2: 4300 }, lg: { mx: 787, tx: 796, y: 394 }
});
timeChart({
  x0: 128, x1: 265, yTop: 542, yBot: 633, ymax: 5000, ystep: 1000, title: ['E. coli', ' ATCC25922'],
  series: tSeries([fEc41_1x, fEc41_2x, fEc41_5x, fEc41_pbs, fEc41_tri], cols41, shp, [0, 1, 0, 0, 1], labF41, fEc41_err),
  pep: { t: 36, v: 3600, at: 30, a1: 3050, a2: 2400 }, lg: { mx: 273, tx: 283, y: 548.5 }
});
timeChart({
  x0: 383, x1: 521, yTop: 542, yBot: 633, ymax: 5000, ystep: 1000, title: ['E. coli', ' ATCC25922'],
  series: tSeries([fEc42_1x, fEc42_2x, fEc42_5x, fEc42_pbs, fEc42_tri], cols42, shp, [0, 1, 0, 0, 1], lab42, fEc42_err),
  pep: { t: 35, v: 3600, at: 29.3, a1: 3000, a2: 2350 }, lg: { mx: 528, tx: 541, y: 548.5 }
});
timeChart({
  x0: 639, x1: 775, yTop: 542, yBot: 633, ymax: 5000, ystep: 1000, title: ['E. coli', ' ATCC25922'],
  series: tSeries([fEc5_1x, fEc5_2x, fEc5_5x, fEc5_pbs, fEc5_tri], cols5, shp5, [0, 1, 0, 0, 1], lab5, fEc5_err),
  pep: { t: 35, v: 3550, at: 30, a1: 3200, a2: 2400 }, lg: { mx: 786, tx: 796, y: 548.5 }
});

micChart({
  x0: 145, x1: 305, c0: 153, c1: 296, yTop: 695, yBot: 802, cats: concG, data: gKb41,
  title: ['E. coli', ' ATCC25922'], tx: 224, xlx: 226, xly: 830, xLabel: 'Peptide Concentration (μg/mL)',
  ylx: 125, yLabel: 'Fold Increase In MICs of Kb4-1'
});
micChart({
  x0: 394, x1: 552, c0: 404, c1: 539, yTop: 695, yBot: 802, cats: concG, data: gKb42,
  title: ['E. coli', ' ATCC25922'], tx: 478, xlx: 471, xly: 830, xLabel: 'Peptide Concentration (μg/mL)',
  ylx: 374, yLabel: 'Fold Increase In MICs of Kb4-2'
});
micChart({
  x0: 646, x1: 800, c0: 654, c1: 789, yTop: 695, yBot: 802, cats: concG, data: gKb5,
  title: ['E. coli', ' ATCC25922'], tx: 721, xlx: 721, xly: 830, xLabel: 'Concentration (μg/mL)',
  ylx: 624, yLabel: 'Fold Increase In MICs of Kb5',
  lg: { names: lipidNames, mx: 811, tx: 822, y: 707, dy: 14.3 }
});
micChart({
  x0: 145, x1: 288, c0: 161, c1: 272, yTop: 874, yBot: 978, cats: concH, data: hKb41,
  title: ['S. aureus', ' CMCC26003'], tx: 216, xlx: 216, xly: 1010, xLabel: 'Phospholipids (μg/mL)',
  ylx: 124, yLabel: 'Fold Increase In MICs of Kb4-1',
  lg: { names: ['CL', 'PC', 'PE', 'PG'], mx: 270, tx: 281, y: 875, dy: 15 }
});
micChart({
  x0: 399, x1: 541, c0: 413, c1: 526, yTop: 874, yBot: 978, cats: concH, data: hKb42,
  title: ['S. aureus', ' CMCC26003'], tx: 470, xlx: 471, xly: 1010, xLabel: 'Phospholipids (μg/mL)',
  ylx: 377, yLabel: 'Fold Increase In MICs of Kb4-2'
});
micChart({
  x0: 646, x1: 789, c0: 660, c1: 772, yTop: 874, yBot: 978, cats: concH, data: hKb5,
  title: ['S. aureus', ' CMCC26003'], tx: 716, xlx: 716, xly: 1010, xLabel: 'Phospholipids (μg/mL)',
  ylx: 624, yLabel: 'Fold Increase In MICs of Kb5'
});

// panel letters and footer
var letters = [['A', 102, 29], ['B', 596, 28], ['C', 102, 201], ['D', 370, 201], ['E', 102, 364],
  ['F', 102, 528], ['G', 102, 670], ['H', 102, 836]];
letters.forEach(function (l) {
  plainText(svg, l[1], l[2], l[0], 19, { anchor: 'start', bold: false, fill: '#111' });
});
svg.append('text').attr('x', 890).attr('y', 1034).attr('text-anchor', 'end')
  .attr('font-family', '"Liberation Serif", "Times New Roman", serif').attr('font-style', 'italic')
  .attr('font-size', 10.5).attr('fill', '#222').text('(caption on next page)');
</script>
</body>
</html>
